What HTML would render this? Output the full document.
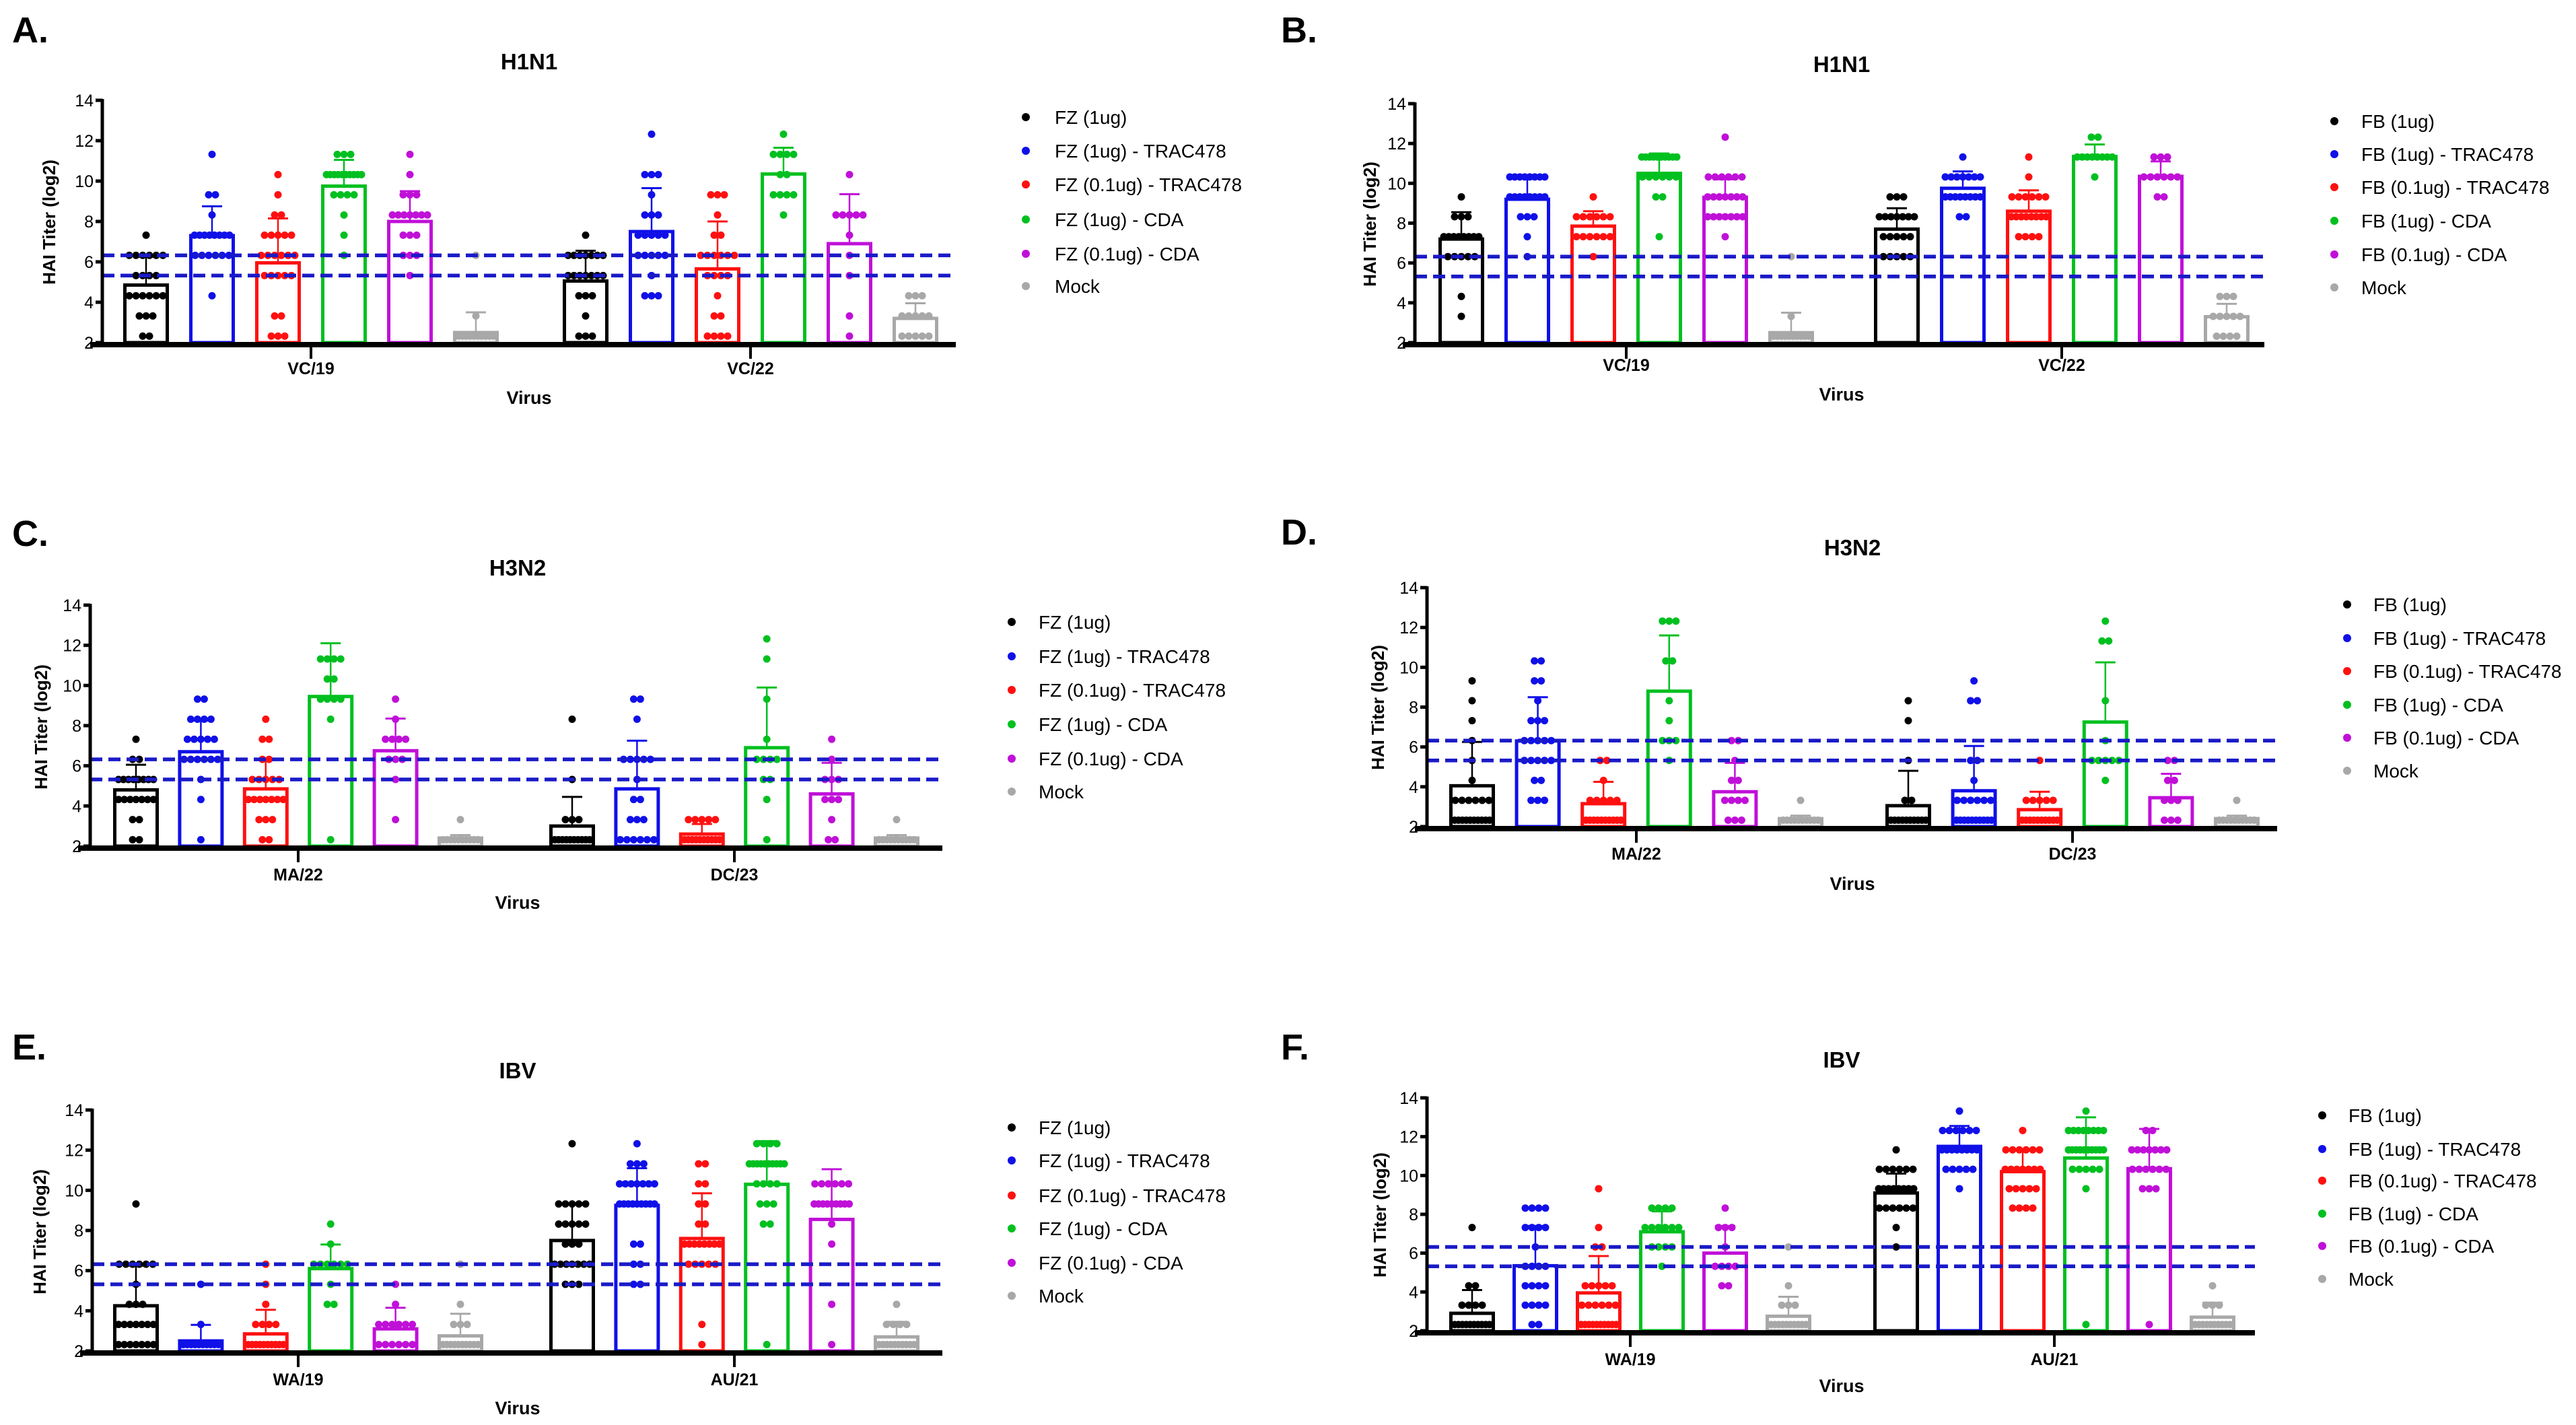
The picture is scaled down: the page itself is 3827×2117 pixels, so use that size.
<!DOCTYPE html>
<html><head><meta charset="utf-8"><style>
html,body{margin:0;padding:0;background:#fff;}
svg{display:block;font-family:"Liberation Sans",sans-serif;}
</style></head><body>
<svg id="fig" xmlns="http://www.w3.org/2000/svg" width="3827" height="2117" viewBox="0 0 3827 2117"></svg>
<script>
// ===== Data (log2 HAI titers) =====
const seriesFZ = ['FZ (1ug)','FZ (1ug) - TRAC478','FZ (0.1ug) - TRAC478','FZ (1ug) - CDA','FZ (0.1ug) - CDA','Mock'];
const seriesFB = ['FB (1ug)','FB (1ug) - TRAC478','FB (0.1ug) - TRAC478','FB (1ug) - CDA','FB (0.1ug) - CDA','Mock'];
const yTicks = [2,4,6,8,10,12,14];
const cutoffs = [6.32,5.32];

const A_categories = ['VC/19','VC/22'];
const A_means = [[4.85,7.3,5.95,9.75,8.0,2.5],[5.05,7.5,5.65,10.35,6.9,3.2]];
const A_sds = [[1.4,1.45,2.2,1.3,1.5,1.0],[1.5,2.15,2.35,1.3,2.45,0.75]];
const A_dots = [
 [[[7.32,1],[6.32,6],[5.32,4],[4.32,6],[3.32,3],[2.32,2]],
  [[11.32,1],[9.32,2],[8.32,1],[7.32,8],[6.32,6],[4.32,1]],
  [[10.32,1],[9.32,1],[8.32,2],[7.32,5],[6.32,6],[5.32,5],[3.32,2],[2.32,3]],
  [[11.32,3],[10.32,10],[9.32,4],[8.32,1],[7.32,1],[6.32,1]],
  [[11.32,1],[10.32,1],[9.32,3],[8.32,7],[7.32,3],[6.32,3],[5.32,1]],
  [[6.32,1],[3.32,1],[2.32,10]]],
 [[[7.32,1],[6.32,7],[5.32,7],[4.32,3],[3.32,1],[2.32,3]],
  [[12.32,1],[10.32,3],[9.32,1],[8.32,3],[7.32,5],[6.32,5],[5.32,1],[4.32,3]],
  [[9.32,3],[8.32,1],[7.32,2],[6.32,6],[5.32,4],[4.32,1],[3.32,2],[2.32,4]],
  [[12.32,1],[11.32,4],[10.32,2],[9.32,4],[8.32,1]],
  [[10.32,1],[8.32,5],[7.32,1],[6.32,1],[5.32,1],[3.32,1],[2.32,1]],
  [[4.32,3],[3.32,5],[2.32,5]]]
];

const B_categories = ['VC/19','VC/22'];
const B_means = [[7.2,9.2,7.85,10.5,9.3,2.5],[7.7,9.75,8.6,11.35,10.35,3.3]];
const B_sds = [[1.35,1.1,0.75,1.0,0.9,1.0],[1.05,0.85,1.05,0.6,0.75,0.65]];
const B_dots = [
 [[[9.32,1],[8.32,3],[7.32,8],[6.32,5],[4.32,1],[3.32,1]],
  [[10.32,8],[9.32,8],[8.32,3],[7.32,1],[6.32,1]],
  [[9.32,1],[8.32,6],[7.32,6],[6.32,1]],
  [[11.32,10],[10.32,6],[9.32,2],[7.32,1]],
  [[12.32,1],[10.32,6],[9.32,7],[8.32,7],[7.32,1]],
  [[6.32,1],[3.32,1],[2.32,10]]],
 [[[9.32,3],[8.32,7],[7.32,5],[6.32,5]],
  [[11.32,1],[10.32,7],[9.32,8],[8.32,2]],
  [[11.32,1],[10.32,1],[9.32,6],[8.32,8],[7.32,4]],
  [[12.32,2],[11.32,8],[10.32,1]],
  [[11.32,3],[10.32,6],[9.32,2]],
  [[4.32,3],[3.32,5],[2.32,4]]]
];

const C_categories = ['MA/22','DC/23'];
const C_means = [[4.8,6.7,4.85,9.45,6.75,2.4],[3.0,4.85,2.6,6.9,4.6,2.4]];
const C_sds = [[1.25,1.55,1.45,2.65,1.6,0.15],[1.45,2.4,0.5,3.0,1.55,0.15]];
const C_dots = [
 [[[7.32,1],[6.32,2],[5.32,8],[4.32,7],[3.32,2],[2.32,2]],
  [[9.32,2],[8.32,4],[7.32,5],[6.32,6],[5.32,1],[4.32,1],[2.32,1]],
  [[8.32,1],[7.32,2],[6.32,2],[5.32,5],[4.32,7],[3.32,3],[2.32,2]],
  [[11.32,4],[10.32,2],[9.32,4],[8.32,1],[2.32,1]],
  [[9.32,1],[8.32,1],[7.32,4],[6.32,3],[5.32,1],[3.32,1]],
  [[3.32,1],[2.32,10]]],
 [[[8.32,1],[5.32,1],[3.32,3],[2.32,10]],
  [[9.32,2],[8.32,1],[6.32,5],[5.32,1],[4.32,2],[3.32,3],[2.32,6]],
  [[3.32,5],[2.32,10]],
  [[12.32,1],[11.32,1],[9.32,1],[7.32,1],[6.32,4],[5.32,2],[4.32,1],[2.32,1]],
  [[7.32,1],[6.32,1],[5.32,3],[4.32,3],[3.32,1],[2.32,2]],
  [[3.32,1],[2.32,10]]]
];

const D_categories = ['MA/22','DC/23'];
const D_means = [[4.05,6.3,3.15,8.8,3.75,2.4],[3.05,3.8,2.85,7.25,3.45,2.4]];
const D_sds = [[2.2,2.2,1.1,2.8,1.45,0.15],[1.75,2.25,0.9,3.0,1.2,0.15]];
const D_dots = [
 [[[9.32,1],[8.32,1],[7.32,1],[6.32,1],[5.32,1],[4.32,1],[3.32,6],[2.32,10]],
  [[10.32,2],[9.32,2],[8.32,1],[7.32,3],[6.32,5],[5.32,5],[4.32,2],[3.32,3]],
  [[5.32,2],[4.32,1],[3.32,5],[2.32,10]],
  [[12.32,3],[10.32,2],[8.32,1],[7.32,1],[6.32,3],[5.32,1]],
  [[6.32,2],[5.32,1],[4.32,2],[3.32,4],[2.32,3]],
  [[3.32,1],[2.32,10]]],
 [[[8.32,1],[7.32,1],[5.32,1],[3.32,2],[2.32,10]],
  [[9.32,1],[8.32,2],[5.32,2],[4.32,1],[3.32,6],[2.32,10]],
  [[5.32,1],[3.32,5],[2.32,10]],
  [[12.32,1],[11.32,2],[8.32,1],[6.32,1],[5.32,5],[4.32,1]],
  [[5.32,2],[4.32,2],[3.32,3],[2.32,3]],
  [[3.32,1],[2.32,10]]]
];

const E_categories = ['WA/19','AU/21'];
const E_means = [[4.25,2.5,2.85,6.1,3.1,2.75],[7.5,9.25,7.6,10.3,8.55,2.7]];
const E_sds = [[2.0,0.8,1.2,1.2,1.05,1.1],[1.8,1.85,2.25,2.15,2.5,0.75]];
const E_dots = [
 [[[9.32,1],[6.32,6],[5.32,1],[4.32,3],[3.32,7],[2.32,7]],
  [[5.32,1],[3.32,1],[2.32,10]],
  [[6.32,1],[5.32,1],[4.32,1],[3.32,4],[2.32,10]],
  [[8.32,1],[7.32,1],[6.32,6],[5.32,1],[4.32,2]],
  [[5.32,1],[4.32,1],[3.32,6],[2.32,6]],
  [[6.32,1],[4.32,1],[3.32,3],[2.32,10]]],
 [[[12.32,1],[9.32,5],[8.32,5],[7.32,3],[6.32,7],[5.32,3]],
  [[12.32,1],[11.32,3],[10.32,7],[9.32,9],[7.32,2],[6.32,2],[5.32,2]],
  [[11.32,2],[10.32,2],[9.32,2],[8.32,2],[7.32,8],[6.32,5],[3.32,1],[2.32,1]],
  [[12.32,4],[11.32,10],[10.32,4],[9.32,3],[8.32,2],[2.32,1]],
  [[10.32,6],[9.32,9],[8.32,1],[7.32,1],[4.32,1],[2.32,1]],
  [[4.32,1],[3.32,4],[2.32,10]]]
];

const F_categories = ['WA/19','AU/21'];
const F_means = [[2.9,5.35,3.95,7.1,6.0,2.75],[9.1,11.5,10.2,10.9,10.35,2.7]];
const F_sds = [[1.2,2.05,1.9,1.05,1.4,1.0],[1.0,1.05,1.15,2.1,2.05,0.75]];
const F_dots = [
 [[[7.32,1],[4.32,2],[3.32,4],[2.32,10]],
  [[8.32,4],[7.32,4],[6.32,1],[5.32,4],[4.32,4],[3.32,4],[2.32,2]],
  [[9.32,1],[7.32,1],[6.32,2],[4.32,5],[3.32,6],[2.32,10]],
  [[8.32,4],[7.32,6],[6.32,4],[5.32,1]],
  [[8.32,1],[7.32,3],[6.32,1],[5.32,4],[4.32,2]],
  [[6.32,1],[4.32,1],[3.32,3],[2.32,10]]],
 [[[11.32,1],[10.32,6],[9.32,8],[8.32,6],[7.32,1],[6.32,1]],
  [[13.32,1],[12.32,6],[11.32,8],[10.32,5],[9.32,1]],
  [[12.32,1],[11.32,6],[10.32,7],[9.32,5],[8.32,4]],
  [[13.32,1],[12.32,8],[11.32,10],[10.32,5],[9.32,1],[2.32,1]],
  [[12.32,2],[11.32,7],[10.32,6],[9.32,3],[2.32,1]],
  [[4.32,1],[3.32,3],[2.32,10]]]
];

// ===== Layout (pixel geometry) =====
const colors = ['#000000','#1010e8','#ff1010','#00c020','#c010d8','#a8a8a8'];
const layouts = [
 {id:'a',letter:'A.',title:'H1N1',series:seriesFZ,cats:A_categories,means:A_means,sds:A_sds,dots:A_dots,
  ax:152,y14:149,y2:509,xend:1420,g:[217,870],step:98,tx:786,ty:103,lx:1524,ltx:1567,ly:[174,224,274,326,377,425],vy:600,tly:556,ylx:73,yly:330,lex:18,ley:63},
 {id:'b',letter:'B.',title:'H1N1',series:seriesFB,cats:B_categories,means:B_means,sds:B_sds,dots:B_dots,
  ax:2102,y14:154,y2:509,xend:3364,g:[2171,2818],step:98,tx:2736,ty:107,lx:3468,ltx:3508,ly:[180,229,278,328,378,427],vy:595,tly:551,ylx:2035,yly:333,lex:1903,ley:63},
 {id:'c',letter:'C.',title:'H3N2',series:seriesFZ,cats:C_categories,means:C_means,sds:C_sds,dots:C_dots,
  ax:134,y14:899,y2:1257,xend:1400,g:[202,850],step:96.4,tx:769,ty:855,lx:1503,ltx:1543,ly:[924,975,1025,1076,1127,1176],vy:1350,tly:1308,ylx:61,yly:1080,lex:18,ley:811},
 {id:'d',letter:'D.',title:'H3N2',series:seriesFB,cats:D_categories,means:D_means,sds:D_sds,dots:D_dots,
  ax:2120,y14:873,y2:1228,xend:3383,g:[2187,2835],step:97.6,tx:2752,ty:825,lx:3487,ltx:3526,ly:[898,948,997,1047,1096,1145],vy:1322,tly:1277,ylx:2047,yly:1051,lex:1903,ley:809},
 {id:'e',letter:'E.',title:'IBV',series:seriesFZ,cats:E_categories,means:E_means,sds:E_sds,dots:E_dots,
  ax:137,y14:1649,y2:2007,xend:1400,g:[202,850],step:96.4,tx:769,ty:1602,lx:1503,ltx:1543,ly:[1675,1724,1776,1825,1876,1925],vy:2101,tly:2058,ylx:59,yly:1830,lex:18,ley:1574},
 {id:'f',letter:'F.',title:'IBV',series:seriesFB,cats:F_categories,means:F_means,sds:F_sds,dots:F_dots,
  ax:2120,y14:1631,y2:1977,xend:3350,g:[2187,2817],step:94,tx:2736,ty:1586,lx:3450,ltx:3489,ly:[1657,1707,1754,1803,1851,1900],vy:2068,tly:2028,ylx:2050,yly:1805,lex:1903,ley:1574}
];

const NS='http://www.w3.org/2000/svg';
const svg=document.getElementById('fig');
function mk(tag,attrs,parent){const e=document.createElementNS(NS,tag);for(const k in attrs)e.setAttribute(k,attrs[k]);(parent||svg).appendChild(e);return e;}

layouts.forEach(L=>{
  const g=mk('g',{});
  
  
  const yS=v=>L.y2+(v-2)*(L.y14-L.y2)/12;
  const barX=(ci,si)=>L.g[ci]+si*L.step;
  const BW=63;

  const letter=mk('text',{x:L.lex,y:L.ley,'font-size':54,'font-weight':'bold',fill:'#000'},g);
  letter.textContent=L.letter;
  
  
  const title=mk('text',{x:L.tx,y:L.ty,'font-size':33,'font-weight':'bold','text-anchor':'middle'},g);
  title.textContent=L.title;
  
  

  // bars, error bars, dots
  L.cats.forEach((cat,ci)=>{
    L.series.forEach((s,si)=>{
      const cx=barX(ci,si), col=colors[si];
      const m=L.means[ci][si], sd=L.sds[ci][si];
      const bar=mk('rect',{x:cx-BW/2,y:yS(m),width:BW,height:yS(2)-yS(m),fill:'#fff',stroke:col,'stroke-width':5},g);
      
      
      const eb=mk('line',{x1:cx,x2:cx,y1:yS(m),y2:yS(m+sd),stroke:col,'stroke-width':2.5},g);
      
      
      const cap=mk('line',{x1:cx-15,x2:cx+15,y1:yS(m+sd),y2:yS(m+sd),stroke:col,'stroke-width':3},g);
      
      
      L.dots[ci][si].forEach(([v,n])=>{
        const sp=n>1?Math.min(10,52/(n-1)):0;
        for(let k=0;k<n;k++){
          const dx=(k-(n-1)/2)*sp;
          const d=mk('circle',{cx:cx+dx,cy:yS(v),r:5.5,fill:col},g);
          
          
        }
      });
    });
  });

  // cutoff dashed lines
  cutoffs.forEach(c=>{
    const dl=mk('line',{x1:L.ax,x2:L.xend,y1:yS(c),y2:yS(c),stroke:'#1a1ac8','stroke-width':5.5,'stroke-dasharray':'18 9'},g);
    
    
  });

  // axes
  const ya=mk('line',{x1:L.ax,x2:L.ax,y1:L.y14-2,y2:L.y2+4,stroke:'#000','stroke-width':5},g);
  
  
  const xa=mk('line',{x1:L.ax-18,x2:L.xend,y1:L.y2+3,y2:L.y2+3,stroke:'#000','stroke-width':8},g);
  
  
  yTicks.forEach(t=>{
    const tk=mk('line',{x1:L.ax-10,x2:L.ax,y1:yS(t),y2:yS(t),stroke:'#000','stroke-width':5},g);
    
    
    const tl=mk('text',{x:L.ax-13,y:yS(t)+9,'font-size':25,'text-anchor':'end'},g);
    tl.textContent=t;
    
    
  });
  L.cats.forEach((cat,ci)=>{
    const tx=(barX(ci,0)+barX(ci,5))/2;
    const tk=mk('line',{x1:tx,x2:tx,y1:L.y2+6,y2:L.y2+24,stroke:'#000','stroke-width':4},g);
    
    
    const tl=mk('text',{x:tx,y:L.tly,'font-size':25,'font-weight':'bold','text-anchor':'middle'},g);
    tl.textContent=cat;
    
    
  });
  const xt=mk('text',{x:L.tx,y:L.vy,'font-size':27,'font-weight':'bold','text-anchor':'middle'},g);
  xt.textContent='Virus';
  
  
  const yt=mk('text',{x:0,y:0,'font-size':26,'font-weight':'bold','text-anchor':'middle',transform:`translate(${L.ylx+9},${L.yly}) rotate(-90)`},g);
  yt.textContent='HAI Titer (log2)';
  
  

  // legend
  L.series.forEach((s,si)=>{
    const le=mk('g',{},g);
    
    
    mk('circle',{cx:L.lx,cy:L.ly[si],r:6,fill:colors[si]},le);
    const t=mk('text',{x:L.ltx,y:L.ly[si]+10,'font-size':28},le);
    t.textContent=s;
  });
});
</script>
</body></html>
